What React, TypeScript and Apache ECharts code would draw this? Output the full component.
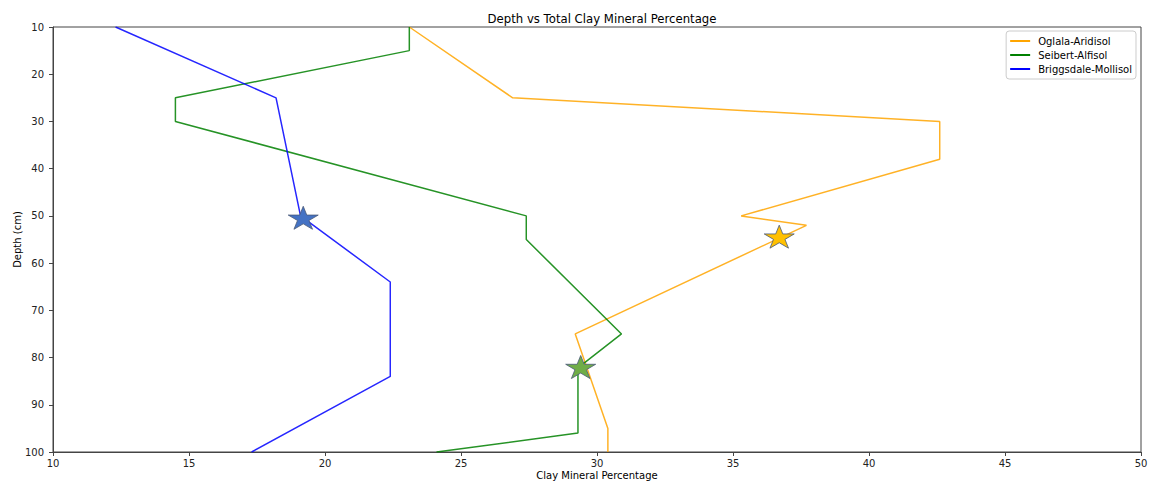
import React, { useEffect, useRef } from "react";
import * as echarts from "echarts";

const xTicks = [10, 15, 20, 25, 30, 35, 40, 45, 50];
const yTicks = [10, 20, 30, 40, 50, 60, 70, 80, 90, 100];

const seriesNames = ["Oglala-Aridisol", "Seibert-Alfisol", "Briggsdale-Mollisol"];
const lineColors = ["#ffa500", "#008000", "#0000ff"];
const starColors = ["#ffc000", "#70ad47", "#4472c4"];

// [clay %, depth cm]
const oglala: [number, number][] = [
  [23.1, 10], [26.9, 25], [42.6, 30], [42.6, 38], [35.3, 50], [37.7, 52], [29.2, 75], [30.4, 95], [30.4, 100],
];
const seibert: [number, number][] = [
  [23.1, 10], [23.1, 15], [14.5, 25], [14.5, 30], [27.4, 50], [27.4, 55], [30.9, 75], [29.3, 82.2], [29.3, 96], [24.1, 100],
];
const briggsdale: [number, number][] = [
  [12.3, 10], [18.2, 25], [19.1, 50], [22.4, 64], [22.4, 84], [17.3, 100],
];
const stars: [number, number][] = [
  [36.7, 54.4], [29.4, 82.0], [19.2, 50.4],
];

const STAR =
  "path://M0,-100 L22.45,-30.9 L95.1,-30.9 L36.3,11.8 L58.8,80.9 L0,38.2 L-58.8,80.9 L-36.3,11.8 L-95.1,-30.9 L-22.45,-30.9 Z";

const FONT = "DejaVu Sans";

export default function App() {
  const ref = useRef<HTMLDivElement>(null);
  useEffect(() => {
    if (!ref.current) return;
    const chart = echarts.init(ref.current, undefined, { renderer: "svg" });
    const lines = [oglala, seibert, briggsdale];
    const series: any[] = lines.map((d, i) => ({
      name: seriesNames[i],
      type: "line",
      data: d,
      showSymbol: false,
      symbol: "none",
      lineStyle: { color: lineColors[i], width: 1.5, opacity: 0.85 },
      itemStyle: { color: lineColors[i] },
      z: 2,
    }));
    stars.forEach((s, i) => {
      series.push({
        name: "star" + i,
        type: "scatter",
        data: [s],
        symbol: STAR,
        symbolSize: [30, 23],
        symbolKeepAspect: false,
        itemStyle: { color: starColors[i], borderColor: "#4a5a78", borderWidth: 0.8, opacity: 1 },
        z: 5,
      });
    });
    chart.setOption({
      animation: false,
      textStyle: { fontFamily: FONT },
      title: {
        text: "Depth vs Total Clay Mineral Percentage",
        left: 597,
        textAlign: "center",
        top: 8,
        textStyle: { fontFamily: FONT, fontSize: 11.7, fontWeight: "normal", color: "#000" },
      },
      legend: {
        data: seriesNames.map((n, i) => ({ name: n, icon: "rect", itemStyle: { color: lineColors[i] } })),
        orient: "vertical",
        right: 13,
        top: 31,
        padding: [5, 4, 5, 4],
        itemWidth: 20,
        itemHeight: 2,
        itemGap: 4,
        borderColor: "#cccccc",
        borderWidth: 1,
        borderRadius: 3,
        backgroundColor: "#ffffff",
        textStyle: { fontFamily: FONT, fontSize: 10, color: "#000", padding: [0, 0, 0, 3] },
      },
      grid: {
        left: 53,
        right: 8,
        top: 27,
        bottom: 31,
        containLabel: false,
        outerBoundsMode: "none",
        show: true,
        borderColor: "#444",
        borderWidth: 1,
        backgroundColor: "transparent",
      },
      xAxis: {
        type: "value",
        min: 10,
        max: 50,
        interval: xTicks[1] - xTicks[0],
        name: "Clay Mineral Percentage",
        nameLocation: "middle",
        nameGap: 18,
        nameMoveOverlap: false,
        nameTextStyle: { fontFamily: FONT, fontSize: 10, color: "#000" },
        axisLine: { show: true, lineStyle: { color: "#444", width: 1 } },
        axisTick: { show: true, inside: false, length: 4, lineStyle: { color: "#444" } },
        axisLabel: { fontFamily: FONT, fontSize: 10, color: "#222", margin: 6 },
        splitLine: { show: false },
      },
      yAxis: {
        type: "value",
        inverse: true,
        min: 10,
        max: 100,
        interval: yTicks[1] - yTicks[0],
        name: "Depth (cm)",
        nameLocation: "middle",
        nameGap: 31,
        nameMoveOverlap: false,
        nameTextStyle: { fontFamily: FONT, fontSize: 10, color: "#000" },
        axisLine: { show: true, lineStyle: { color: "#444", width: 1 } },
        axisTick: { show: true, inside: false, length: 4, lineStyle: { color: "#444" } },
        axisLabel: { fontFamily: FONT, fontSize: 10, color: "#222", margin: 9 },
        splitLine: { show: false },
      },
      series,
    });
    return () => chart.dispose();
  }, []);
  return (
    <div
      ref={ref}
      style={{ position: "fixed", left: 0, top: 0, width: 1149, height: 483, background: "#fff" }}
    />
  );
}
